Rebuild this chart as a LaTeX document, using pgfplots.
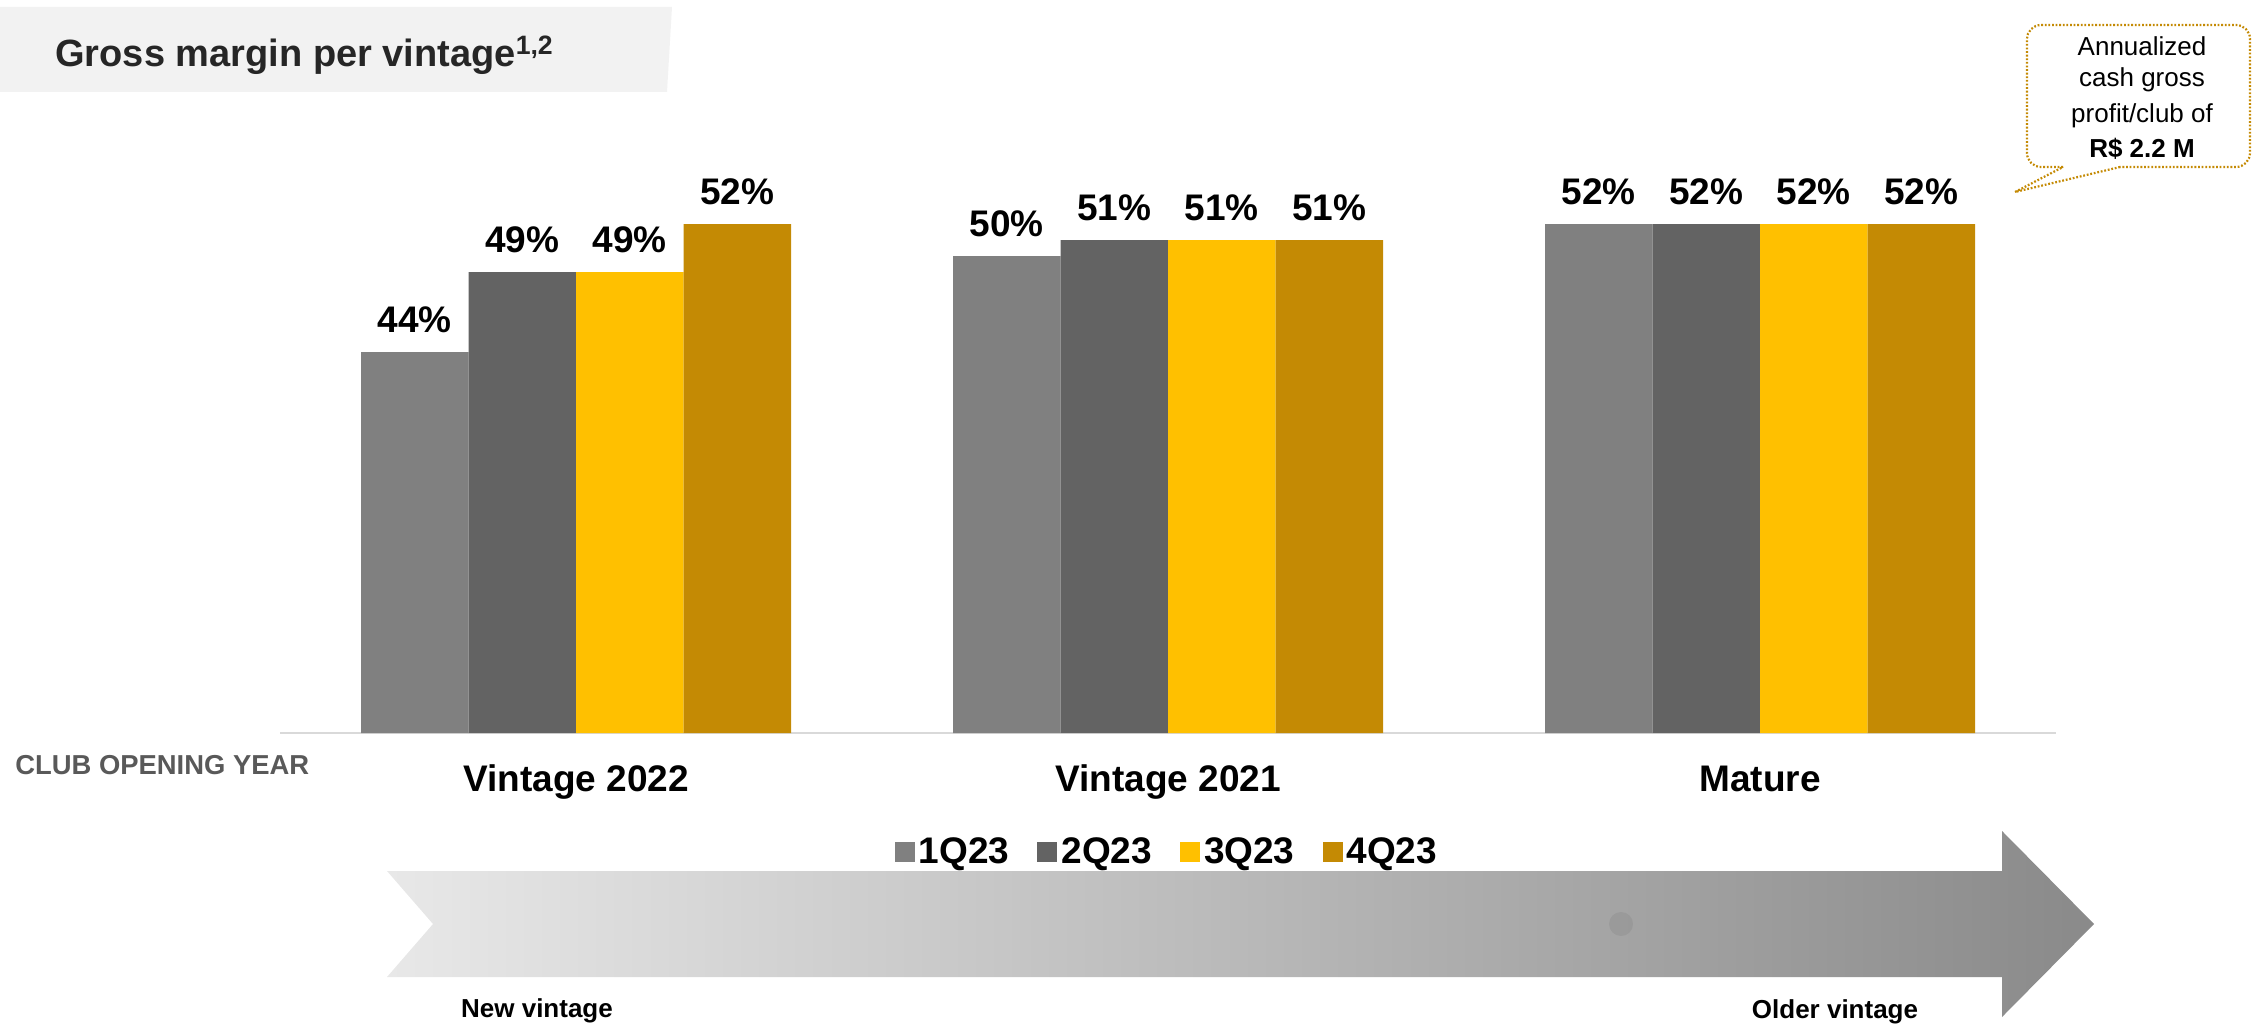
\documentclass[border=0pt]{standalone}
\usepackage{fontspec}
\setmainfont{Liberation Sans}
\usepackage{pgfplots}
\pgfplotsset{compat=1.18}
\definecolor{q1}{HTML}{808080}
\definecolor{q2}{HTML}{636363}
\definecolor{q3}{HTML}{FFC000}
\definecolor{q4}{HTML}{C48A04}
\definecolor{titlebg}{HTML}{F2F2F2}
\definecolor{titletext}{HTML}{262626}
\definecolor{clubtext}{HTML}{595959}
\definecolor{baseline}{HTML}{D9D9D9}
\begin{document}
\begin{tikzpicture}
\begin{scope}[x=0.5pt,y=0.5pt]
\useasboundingbox (0,0) rectangle (2253,1024);
% title band
\fill[titlebg] (0,1017) -- (672,1017) -- (667,932) -- (0,932) -- cycle;
\node[anchor=base west, inner sep=0pt, text=titletext, font=\fontsize{19pt}{23pt}\selectfont\bfseries] at (55,957) {Gross margin per vintage\textsuperscript{1,2}};
% club opening year
\node[anchor=base west, inner sep=0pt, text=clubtext, font=\fontsize{13.7pt}{17pt}\selectfont\bfseries] at (15,250) {CLUB OPENING YEAR};
% arrow
\shade[left color=black!9, right color=black!46] (387,153) -- (433,100) -- (387,47) -- (2002,47) -- (2002,7) -- (2094,100) -- (2002,193) -- (2002,153) -- cycle;
\fill[black, opacity=0.06] (1621,100) circle (12);
\node[anchor=base, inner sep=0pt, font=\fontsize{13pt}{16pt}\selectfont\bfseries] at (537,7) {New vintage};
\node[anchor=base, inner sep=0pt, font=\fontsize{13pt}{16pt}\selectfont\bfseries] at (1835,6) {Older vintage};
% callout
\draw[q4, line width=1.1pt, dash pattern=on 0.9pt off 0.9pt, rounded corners=7pt] (2063,857) -- (2027,857) -- (2027,999) -- (2250,999) -- (2250,857) -- (2120,857);
\draw[q4, line width=1.1pt, dash pattern=on 0.9pt off 0.9pt] (2120,857) -- (2015,832) -- (2063,857);
\node[anchor=base, inner sep=0pt, font=\fontsize{13pt}{16pt}\selectfont] at (2142,968) {Annualized};
\node[anchor=base, inner sep=0pt, font=\fontsize{13pt}{16pt}\selectfont] at (2142,937) {cash gross};
\node[anchor=base, inner sep=0pt, font=\fontsize{13pt}{16pt}\selectfont] at (2142,901) {profit/club of};
\node[anchor=base, inner sep=0pt, font=\fontsize{13pt}{16pt}\selectfont\bfseries] at (2142,866) {R\$ 2.2 M};
\end{scope}
\begin{axis}[
  at={(140pt,145.5pt)}, anchor=south west,
  scale only axis, width=888pt, height=318.4pt,
  xmin=-0.5, xmax=2.5, ymin=20.2, ymax=60,
  clip=false,
  ybar=0pt, bar width=53.75pt,
  axis x line=bottom, axis y line=none,
  x axis line style={-, draw=baseline, line width=1pt},
  xtick={0,1,2}, xticklabels={Vintage 2022, Vintage 2021, Mature},
  major tick length=0pt, ytick=\empty,
  xticklabel style={anchor=base, yshift=-29pt, font=\fontsize{18.5pt}{22pt}\selectfont\bfseries},
  /pgf/number format/assume math mode=true,
  nodes near coords={\pgfmathprintnumber{\pgfplotspointmeta}\%},
  every node near coord/.append style={font=\fontsize{18.5pt}{22pt}\selectfont\bfseries, anchor=south, inner sep=0pt, yshift=9.5pt, text=black},
  legend columns=4,
  legend style={at={(0.5,-0.187)}, anchor=center, draw=none, fill=none,
    font=\fontsize{18.5pt}{22pt}\selectfont\bfseries,
    /tikz/every even column/.append style={column sep=12pt}},
  legend image code/.code={\fill[#1, draw=none] (0pt,-5pt) rectangle (10pt,5pt);},
]
\addplot[fill=q1, draw=none] coordinates {(0,44) (1,50) (2,52)};
\addplot[fill=q2, draw=none] coordinates {(0,49) (1,51) (2,52)};
\addplot[fill=q3, draw=none] coordinates {(0,49) (1,51) (2,52)};
\addplot[fill=q4, draw=none] coordinates {(0,52) (1,51) (2,52)};
\legend{1Q23,2Q23,3Q23,4Q23}
\end{axis}
\end{tikzpicture}
\end{document}
